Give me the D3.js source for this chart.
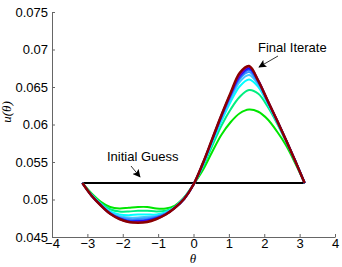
<!DOCTYPE html>
<html>
<head>
<meta charset="utf-8">
<script src="https://cdn.jsdelivr.net/npm/d3@7"></script>
<style>
  body { margin: 0; background: #fff; }
  svg { display: block; }
  .tick text { font-family: "Liberation Sans", Arial, Helvetica, sans-serif; font-size: 13px; fill: #000; }
</style>
</head>
<body>
<svg id="chart"></svg>
<script>
// sample positions on theta
const theta = [-3.1416, -2.8798, -2.6180, -2.3562, -2.0944, -1.8326, -1.5708, -1.3090, -1.0472,
  -0.7854, -0.5236, -0.2618, 0, 0.2618, 0.5236, 0.7854, 1.0472, 1.3090, 1.5708,
  1.8326, 2.0944, 2.3562, 2.6180, 2.8798, 3.1416];

// u(theta) for each iterate, first to last
const iter1 = [0.0522, 0.0508, 0.0497, 0.0490, 0.0488, 0.0489, 0.0490, 0.0490, 0.0488,
  0.0488, 0.0492, 0.0503, 0.0520, 0.0539, 0.0563, 0.0586, 0.0603, 0.0615, 0.0620,
  0.0617, 0.0607, 0.0591, 0.0572, 0.0548, 0.0522];
const iter2 = [0.0522, 0.0507, 0.0495, 0.0487, 0.0484, 0.0484, 0.0485, 0.0485, 0.0484,
  0.0485, 0.0490, 0.0502, 0.0520, 0.0543, 0.0571, 0.0598, 0.0620, 0.0637, 0.0646,
  0.0641, 0.0624, 0.0602, 0.0577, 0.0550, 0.0522];
const iter3 = [0.0522, 0.0506, 0.0494, 0.0484, 0.0480, 0.0479, 0.0480, 0.0480, 0.0480,
  0.0483, 0.0490, 0.0502, 0.0520, 0.0545, 0.0575, 0.0604, 0.0630, 0.0651, 0.0660,
  0.0650, 0.0628, 0.0604, 0.0578, 0.0551, 0.0522];
const iter4 = [0.0522, 0.0506, 0.0493, 0.0483, 0.0478, 0.0476, 0.0476, 0.0477, 0.0478,
  0.0482, 0.0490, 0.0502, 0.0520, 0.0546, 0.0577, 0.0607, 0.0634, 0.0657, 0.0666,
  0.0653, 0.0630, 0.0605, 0.0578, 0.0551, 0.0522];
const iter5 = [0.0522, 0.0505, 0.0493, 0.0482, 0.0476, 0.0474, 0.0474, 0.0475, 0.0477,
  0.0481, 0.0489, 0.0501, 0.0520, 0.0547, 0.0578, 0.0609, 0.0637, 0.0661, 0.0670,
  0.0655, 0.0631, 0.0605, 0.0579, 0.0551, 0.0522];
const iter6 = [0.0522, 0.0505, 0.0492, 0.0482, 0.0475, 0.0472, 0.0472, 0.0473, 0.0476,
  0.0481, 0.0489, 0.0501, 0.0520, 0.0547, 0.0579, 0.0610, 0.0639, 0.0663, 0.0673,
  0.0657, 0.0631, 0.0606, 0.0579, 0.0551, 0.0522];
const iter7 = [0.0522, 0.0505, 0.0492, 0.0481, 0.0475, 0.0471, 0.0471, 0.0472, 0.0475,
  0.0480, 0.0489, 0.0501, 0.0520, 0.0548, 0.0579, 0.0611, 0.0640, 0.0665, 0.0675,
  0.0658, 0.0632, 0.0606, 0.0579, 0.0551, 0.0522];
const iter8 = [0.0522, 0.0505, 0.0492, 0.0481, 0.0474, 0.0470, 0.0470, 0.0471, 0.0474,
  0.0480, 0.0489, 0.0501, 0.0520, 0.0548, 0.0580, 0.0612, 0.0641, 0.0666, 0.0677,
  0.0659, 0.0632, 0.0606, 0.0579, 0.0551, 0.0522];
const finalIter = [0.0522, 0.0505, 0.0492, 0.0481, 0.0474, 0.0470, 0.0469, 0.0470, 0.0474,
  0.0480, 0.0489, 0.0501, 0.0520, 0.0548, 0.0580, 0.0612, 0.0642, 0.0669, 0.0678,
  0.0658, 0.0632, 0.0606, 0.0579, 0.0551, 0.0522];

const iterates = [iter1, iter2, iter3, iter4, iter5, iter6, iter7, iter8, finalIter];
const iterColors = ["#00e600", "#00ee80", "#00ffff", "#40c8ff", "#3a96ff", "#2060ff", "#1010ff", "#7a00c0", "#8b0000"];

// initial guess is flat
const guessTheta = [-3.1416, 3.1416];
const guessU = [0.0522, 0.0522];

const xTicks = [-4, -3, -2, -1, 0, 1, 2, 3, 4];
const yTicks = [0.045, 0.05, 0.055, 0.06, 0.065, 0.07, 0.075];

const width = 342, height = 267;
const svg = d3.select("#chart").attr("width", width).attr("height", height);

const x = d3.scaleLinear().domain([-4, 4]).range([52, 335]);
const y = d3.scaleLinear().domain([0.045, 0.075]).range([237, 12]);

// axes, matlab style ticks pointing in
const xAxis = svg.append("g")
  .attr("transform", "translate(0,237)")
  .call(d3.axisBottom(x).tickValues(xTicks).tickFormat(d3.format("d"))
    .tickSizeInner(-3).tickSizeOuter(0).tickPadding(3));
const yAxis = svg.append("g")
  .attr("transform", "translate(52,0)")
  .call(d3.axisLeft(y).tickValues(yTicks).tickFormat(d => String(+d.toFixed(3)))
    .tickSizeInner(-3).tickSizeOuter(0).tickPadding(4));
svg.selectAll(".domain, .tick line").attr("stroke", "#666").attr("stroke-width", 1);
xAxis.selectAll(".tick text").attr("dy", "0.64em");

// axis labels
svg.append("text")
  .attr("x", 193).attr("y", 263)
  .attr("text-anchor", "middle")
  .style("font-family", "'Liberation Serif', 'Times New Roman', serif")
  .style("font-style", "italic").style("font-size", "13px")
  .text("θ");
svg.append("text")
  .attr("transform", "translate(10.5,112) rotate(-90)")
  .attr("text-anchor", "middle")
  .style("font-family", "'Liberation Serif', 'Times New Roman', serif")
  .style("font-style", "italic").style("font-size", "13px")
  .text("u(θ)");

const line = d3.line()
  .x(d => x(d[0]))
  .y(d => y(d[1]))
  .curve(d3.curveCatmullRom.alpha(0.5));

// initial guess
svg.append("path")
  .attr("d", line(guessTheta.map((t, i) => [t, guessU[i]])))
  .attr("fill", "none").attr("stroke", "#000").attr("stroke-width", 2);

// iterates, final one on top
svg.selectAll(".iter")
  .data(iterates)
  .join("path")
  .attr("class", "iter")
  .attr("d", vals => line(theta.map((t, i) => [t, vals[i]])))
  .attr("fill", "none")
  .attr("stroke", (d, i) => iterColors[i])
  .attr("stroke-width", (d, i) => i === iterates.length - 1 ? 2.5 : 2)
  .attr("stroke-linejoin", "round");

// arrow annotations
svg.append("defs").append("marker")
  .attr("id", "head")
  .attr("viewBox", "0 0 10 10")
  .attr("refX", 9).attr("refY", 5)
  .attr("markerWidth", 8).attr("markerHeight", 8)
  .attr("markerUnits", "userSpaceOnUse")
  .attr("orient", "auto")
  .append("path").attr("d", "M0,0 L10,5 L0,10 L2,5 Z").attr("fill", "#000");

const notes = [
  { text: "Initial Guess", tx: 107, ty: 161, x1: 131, y1: 166, x2: 140, y2: 177 },
  { text: "Final Iterate", tx: 258, ty: 52, x1: 278, y1: 56, x2: 259, y2: 67 }
];
notes.forEach(n => {
  svg.append("text")
    .attr("x", n.tx).attr("y", n.ty)
    .style("font-family", "'Liberation Sans', Arial, Helvetica, sans-serif")
    .style("font-size", "13px")
    .text(n.text);
  svg.append("line")
    .attr("x1", n.x1).attr("y1", n.y1).attr("x2", n.x2).attr("y2", n.y2)
    .attr("stroke", "#000").attr("stroke-width", 0.8)
    .attr("marker-end", "url(#head)");
});
</script>
</body>
</html>
